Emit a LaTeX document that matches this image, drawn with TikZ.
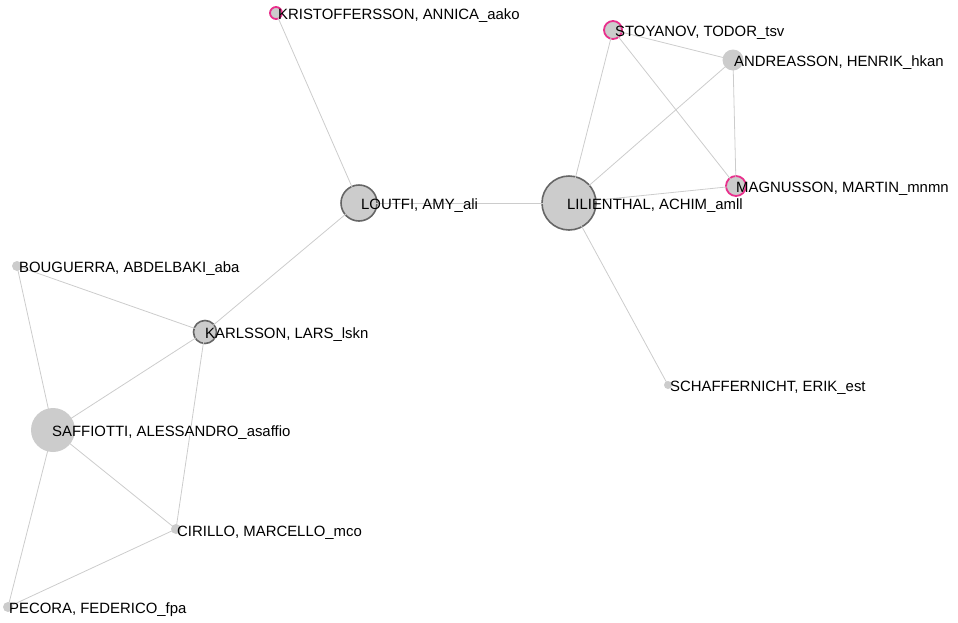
\documentclass[tikz,border=0pt]{standalone}
\usepackage{fontspec}
\setmainfont{Liberation Sans}
\definecolor{nodefill}{HTML}{CCCCCC}
\definecolor{darkrim}{HTML}{666666}
\definecolor{pinkrim}{HTML}{E8308C}
\definecolor{edgecol}{HTML}{CCCCCC}
\begin{document}
\begin{tikzpicture}[x=1pt,y=-1pt,
  vert/.style={circle,fill=nodefill,inner sep=0pt,minimum size=#1},
  darkv/.style={vert=#1,draw=darkrim,line width=1.6pt},
  pinkv/.style={vert=#1,draw=pinkrim,line width=1.8pt},
  lab/.style={anchor=west,inner sep=0pt,font=\fontsize{14.9}{17}\selectfont,text=black},
  link/.style={draw=edgecol,line width=0.8pt}]
\useasboundingbox (0,0) rectangle (958,622);
% nodes
\node[pinkv=12pt] (kri) at (276,13) {};
\node[pinkv=18pt] (sto) at (613,30) {};
\node[vert=21pt] (and) at (733,60) {};
\node[pinkv=20pt] (mag) at (736,186) {};
\node[darkv=54pt] (lil) at (569,203) {};
\node[darkv=36pt] (lou) at (359,203) {};
\node[vert=10pt] (bou) at (17,266) {};
\node[darkv=23pt] (kar) at (205,332) {};
\node[vert=44pt] (saf) at (53,430) {};
\node[vert=10pt] (cir) at (176,529) {};
\node[vert=10pt] (pec) at (8,607) {};
\node[vert=8pt] (sch) at (668,385) {};
% edges
\draw[link] (kri.center) -- (lou.center);
\draw[link] (lou.center) -- (lil.center);
\draw[link] (lou.center) -- (kar.center);
\draw[link] (lil.center) -- (sto.center);
\draw[link] (lil.center) -- (and.center);
\draw[link] (lil.center) -- (mag.center);
\draw[link] (lil.center) -- (sch.center);
\draw[link] (sto.center) -- (and.center);
\draw[link] (sto.center) -- (mag.center);
\draw[link] (and.center) -- (mag.center);
\draw[link] (bou.center) -- (kar.center);
\draw[link] (bou.center) -- (saf.center);
\draw[link] (kar.center) -- (saf.center);
\draw[link] (kar.center) -- (cir.center);
\draw[link] (saf.center) -- (cir.center);
\draw[link] (saf.center) -- (pec.center);
\draw[link] (cir.center) -- (pec.center);
% labels
\node[lab] (lkri) at (278,16) {KRISTOFFERSSON, ANNICA\_aako};
\node[lab] (lsto) at (615,33) {STOYANOV, TODOR\_tsv};
\node[lab] (land) at (734,63) {ANDREASSON, HENRIK\_hkan};
\node[lab] (lmag) at (736,189) {MAGNUSSON, MARTIN\_mnmn};
\node[lab] (llil) at (567,206) {LILIENTHAL, ACHIM\_amll};
\node[lab] (llou) at (361,206) {LOUTFI, AMY\_ali};
\node[lab] (lbou) at (19,269) {BOUGUERRA, ABDELBAKI\_aba};
\node[lab] (lkar) at (205,335) {KARLSSON, LARS\_lskn};
\node[lab] (lsaf) at (52,433) {SAFFIOTTI, ALESSANDRO\_asaffio};
\node[lab] (lcir) at (177,533) {CIRILLO, MARCELLO\_mco};
\node[lab] (lpec) at (9,610) {PECORA, FEDERICO\_fpa};
\node[lab] (lsch) at (670,388) {SCHAFFERNICHT, ERIK\_est};
\end{tikzpicture}
\end{document}
